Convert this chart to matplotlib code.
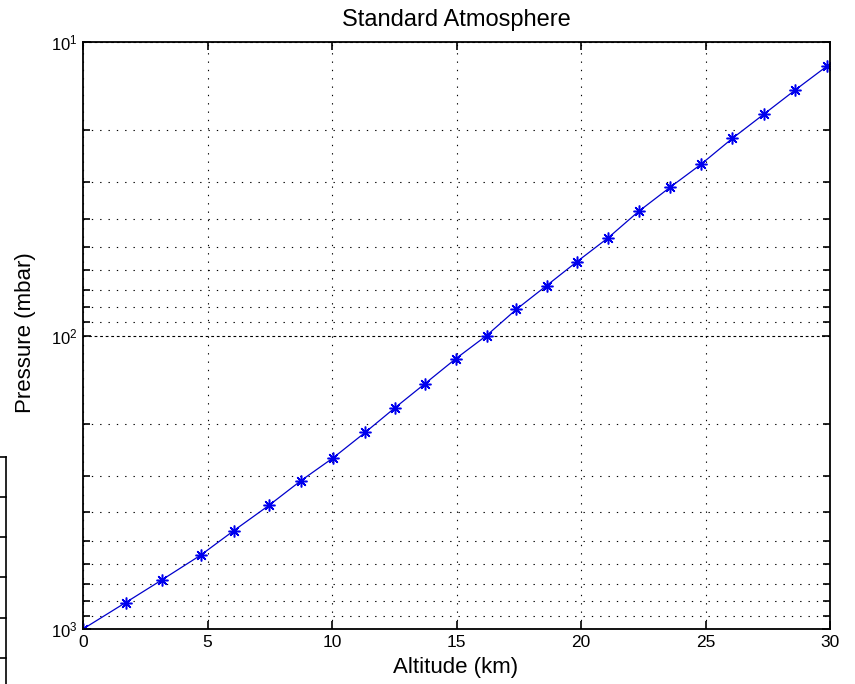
import numpy as np
import matplotlib
matplotlib.use("Agg")
import matplotlib.pyplot as plt
from matplotlib.lines import Line2D
from matplotlib.ticker import LogLocator, FixedLocator

plt.rcParams["font.family"] = ["Liberation Sans", "DejaVu Sans"]
plt.rcParams["mathtext.fontset"] = "custom"
plt.rcParams["mathtext.rm"] = "Liberation Sans"

# altitude (km) and pressure (mbar) of the standard atmosphere profile
altitude = [0.0, 1.71, 3.16, 4.73, 6.06, 7.47, 8.76, 10.05, 11.33, 12.54,
            13.73, 14.97, 16.21, 17.40, 18.62, 19.83, 21.10, 22.31, 23.57,
            24.82, 26.08, 27.35, 28.59, 29.87]
pressure = [1000, 813, 681, 560, 462, 379, 312, 261, 214, 176,
            146, 120, 100, 81.5, 67.6, 56.1, 46.4, 37.8, 31.3,
            26.1, 21.3, 17.6, 14.6, 12.1]
x_ticks = [0, 5, 10, 15, 20, 25, 30]

W, H = 855, 684
fig = plt.figure(figsize=(W / 100, H / 100), dpi=100)
ax = fig.add_axes([83 / W, 1 - 629 / H, (830 - 83) / W, (629 - 42) / H])

# matlab style 'b*-'
ax.plot(altitude, pressure, "-", lw=0.9, color="#0000cc", marker=(8, 2, 0),
        markersize=8.5, markeredgewidth=1.1, markeredgecolor="#0000ee")

ax.set_yscale("log")
ax.set_ylim(1000, 10)
ax.set_xlim(0, 30)
ax.xaxis.set_major_locator(FixedLocator(x_ticks))
ax.yaxis.set_major_locator(LogLocator(base=10, numticks=5))
ax.yaxis.set_minor_locator(LogLocator(base=10, subs=np.arange(2, 10), numticks=20))
ax.yaxis.set_minor_formatter(plt.NullFormatter())

dot = (0, (1.2, 6.3))
ax.grid(True, which="major", axis="x", color="black", lw=0.8, linestyle=dot)
ax.grid(True, which="major", axis="y", color="black", lw=0.8, linestyle=(0, (2.5, 2.5)))
ax.grid(True, which="minor", axis="y", color="black", lw=0.8, linestyle=dot)

ax.tick_params(which="both", direction="in", top=True, right=True,
               width=1.2, color="black")
ax.tick_params(axis="x", labelsize=12.5, pad=4)
ax.tick_params(axis="y", labelsize=12, pad=4)
ax.tick_params(which="major", length=6)
ax.tick_params(which="minor", length=5)
for s in ax.spines.values():
    s.set_linewidth(1.3)

fig.text(456 / W, 1 - 20 / H, "Standard Atmosphere", fontsize=17,
         ha="center", va="center")
fig.text(456 / W, 1 - 668 / H, "Altitude (km)", fontsize=16,
         ha="center", va="center")
fig.text(26 / W, 1 - 333 / H, "Pressure (mbar)", fontsize=16,
         ha="center", va="center", rotation=90)

# edge of a neighbouring table on the left
tf = fig.transFigure.inverted()
def px(x, y):
    return tf.transform((x, H - y))
(x0, y0), (x1, y1) = px(6, 457), px(6, 684)
fig.add_artist(Line2D([x0, x1], [y0, y1], color="black", lw=1.2))
for yy in [457, 497, 537, 577, 618, 658]:
    (a0, b0), (a1, b1) = px(0, yy), px(6, yy)
    fig.add_artist(Line2D([a0, a1], [b0, b1], color="black", lw=1.2))

fig.savefig("out.png", dpi=100)
